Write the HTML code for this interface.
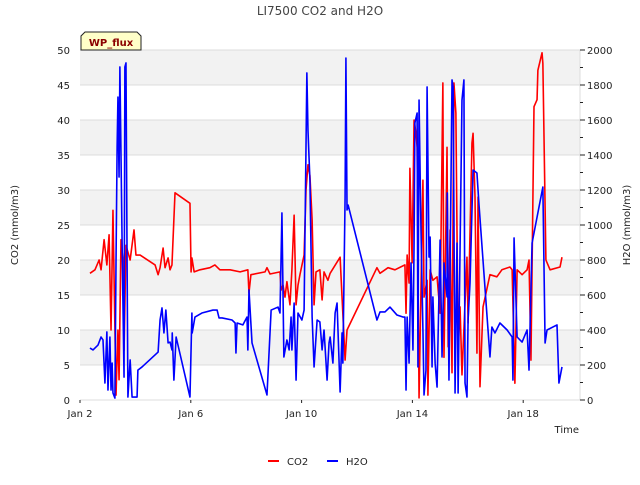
<!DOCTYPE html>
<html><head><meta charset="utf-8"><style>
body{margin:0;background:#fff;}
svg text{font-family:"DejaVu Sans","Liberation Sans",sans-serif;}
</style></head><body>
<svg id="chart" width="640" height="480" viewBox="0 0 640 480">
<rect width="640" height="480" fill="#fff"/>
<g id="bands"></g>
<g id="grid"></g>
<text x="320" y="15" text-anchor="middle" font-size="12" fill="#444">LI7500 CO2 and H2O</text>
<g id="yleft"></g><g id="yright"></g><g id="xaxis"></g>
<g id="series"></g>
<text x="18" y="225" transform="rotate(-90 18 225)" text-anchor="middle" font-size="10" fill="#222">CO2 (mmol/m3)</text>
<text x="630" y="225" transform="rotate(-90 630 225)" text-anchor="middle" font-size="10" fill="#222">H2O (mmol/m3)</text>
<text x="579" y="433" text-anchor="end" font-size="10" fill="#222">Time</text>
<g>
<path d="M81,50 L81,36 L85,32 L137,32 L141,36 L141,50 Z" fill="#ffffc8" stroke="#222" stroke-width="1"/>
<text x="111" y="46" text-anchor="middle" font-size="10" font-weight="bold" fill="#8b0000">WP_flux</text>
</g>
<g>
<g><line x1="268" y1="461" x2="279" y2="461" stroke="#f00" stroke-width="2"/><text x="287" y="465" font-size="10" fill="#222">CO2</text></g>
<g><line x1="327" y1="461" x2="338" y2="461" stroke="#00f" stroke-width="2"/><text x="346" y="465" font-size="10" fill="#222">H2O</text></g>
</g>
</svg>
<script>
const xTickLabels=["Jan 2","Jan 6","Jan 10","Jan 14","Jan 18"];
const xTickDays=[0,4,8,12,16];
const yLeftTicks=[0,5,10,15,20,25,30,35,40,45,50];
const yRightTicks=[0,200,400,600,800,1000,1200,1400,1600,1800,2000];
const co2Days=[0.36,0.54,0.69,0.76,0.87,0.97,1.05,1.12,1.19,1.30,1.37,1.41,1.48,1.55,1.59,1.66,1.81,1.95,2.02,2.17,2.71,2.82,2.89,3.00,3.07,3.18,3.25,3.32,3.43,3.97,4.01,4.04,4.12,4.33,4.69,4.87,5.05,5.42,5.78,6.06,6.10,6.17,6.68,6.75,6.86,7.22,7.26,7.33,7.40,7.47,7.58,7.65,7.73,7.80,7.87,7.94,8.09,8.16,8.23,8.30,8.38,8.45,8.52,8.66,8.74,8.81,8.95,9.03,9.39,9.57,9.64,10.72,10.83,11.12,11.37,11.73,11.77,11.81,11.88,11.91,11.99,12.06,12.13,12.17,12.24,12.38,12.42,12.53,12.56,12.64,12.74,12.89,13.00,13.10,13.14,13.18,13.25,13.29,13.36,13.43,13.50,13.57,13.65,13.72,13.79,13.97,14.01,14.15,14.19,14.26,14.33,14.37,14.44,14.55,14.80,15.05,15.23,15.52,15.60,15.70,15.78,15.96,16.14,16.21,16.28,16.39,16.50,16.53,16.68,16.71,16.82,16.97,17.33,17.40];
const co2Values=[18.1,18.6,20.0,18.6,22.9,19.3,23.6,10.0,27.1,0.7,10.0,2.9,22.9,20.0,7.1,22.1,20.0,24.3,20.7,20.7,19.3,17.9,18.9,21.7,18.9,20.3,18.6,19.3,29.6,28.1,18.3,20.3,18.3,18.6,18.9,19.3,18.6,18.6,18.3,18.6,15.3,17.9,18.3,18.9,18.0,18.3,15.7,16.4,14.7,16.9,13.6,18.6,26.4,13.6,16.4,17.9,20.7,30.0,33.6,32.1,25.7,13.6,18.3,18.6,14.3,18.3,17.1,18.1,20.4,5.7,10.0,18.9,18.1,18.9,18.6,19.3,12.4,20.7,16.7,33.1,19.6,40.0,38.1,36.1,0.3,31.4,14.7,17.1,0.7,18.6,17.1,17.6,12.4,45.3,6.1,16.7,36.1,7.6,24.3,3.9,45.3,41.0,7.1,13.3,3.6,20.4,11.0,36.7,38.1,29.0,6.7,29.0,1.9,13.3,17.9,17.6,18.6,19.0,18.6,2.4,18.6,17.9,18.6,20.0,5.7,41.9,42.9,47.1,49.6,48.1,20.0,18.6,19.0,20.4];
const h2oDays=[0.36,0.47,0.65,0.76,0.83,0.90,0.97,1.01,1.08,1.12,1.16,1.19,1.26,1.30,1.34,1.37,1.41,1.44,1.52,1.55,1.59,1.62,1.66,1.70,1.73,1.81,1.88,2.06,2.09,2.24,2.82,2.89,2.96,3.03,3.10,3.18,3.25,3.32,3.33,3.39,3.47,3.97,4.04,4.05,4.15,4.40,4.80,4.95,5.02,5.13,5.49,5.60,5.63,5.67,5.88,6.03,6.06,6.10,6.21,6.75,6.90,7.15,7.22,7.29,7.36,7.47,7.55,7.62,7.65,7.73,7.80,7.87,8.01,8.09,8.19,8.23,8.30,8.38,8.45,8.56,8.66,8.74,8.81,8.92,8.99,9.03,9.13,9.21,9.28,9.39,9.46,9.49,9.57,9.60,9.64,9.68,10.72,10.83,11.01,11.19,11.44,11.66,11.73,11.77,11.81,11.88,11.95,12.02,12.06,12.09,12.17,12.20,12.24,12.31,12.38,12.42,12.49,12.53,12.60,12.64,12.71,12.74,12.82,12.89,13.00,13.07,13.14,13.25,13.26,13.32,13.43,13.47,13.54,13.61,13.65,13.72,13.79,13.86,13.90,13.97,14.01,14.08,14.19,14.33,14.40,14.80,14.87,14.98,15.16,15.42,15.60,15.63,15.67,15.78,15.96,16.14,16.21,16.32,16.71,16.79,16.86,17.22,17.29,17.40];
const h2oValues=[297,286,314,360,343,97,389,57,360,57,211,40,11,783,1446,1731,1274,1903,897,554,131,1903,1926,783,17,229,17,17,171,189,274,457,526,383,514,326,331,286,383,114,360,17,497,383,474,497,514,514,469,469,457,440,269,440,429,474,286,629,326,29,514,531,497,1069,246,343,286,474,286,554,114,497,457,514,1869,1543,1257,474,189,457,446,286,400,114,326,360,211,497,554,46,383,211,1160,1954,1086,1114,457,503,503,531,486,474,474,57,474,211,783,286,897,1583,1640,189,1714,971,400,29,171,1789,817,931,189,589,211,74,914,246,783,589,1183,114,1829,1789,40,897,40,857,1714,1829,97,17,457,669,1314,1297,1126,246,417,383,440,400,360,114,926,360,331,400,171,897,1217,326,400,429,97,189];

const NS="http://www.w3.org/2000/svg";
const L=80,R=580,T=50,B=400;
const xS=d=>L+d*27.7;
const yL=v=>B-v*(B-T)/50;
const yR=v=>B-v*(B-T)/2000;
function mk(tag,attrs,parent){const e=document.createElementNS(NS,tag);for(const k in attrs)e.setAttribute(k,attrs[k]);parent.appendChild(e);return e;}
const bands=document.getElementById('bands'),grid=document.getElementById('grid');
for(let i=0;i<10;i+=2){const b=mk('rect',{x:L,y:yL(50-i*5),width:R-L,height:(B-T)/10,fill:'#f2f2f2'},bands);

}
const yl=document.getElementById('yleft');
yLeftTicks.forEach(v=>{const g=mk('line',{x1:L,x2:R,y1:yL(v),y2:yL(v),stroke:'#dcdcdc','stroke-width':1},grid);


const t=mk('text',{x:L-10,y:yL(v)+4,'text-anchor':'end','font-size':10,fill:'#222'},yl);t.textContent=v;

});
const yr=document.getElementById('yright');
mk('line',{x1:R,x2:R,y1:T,y2:B,stroke:'#dcdcdc'},yr);
for(let v=0;v<=2000;v+=100){mk('line',{x1:R,x2:R+(v%200===0?5:3),y1:yR(v),y2:yR(v),stroke:'#222'},yr);}
yRightTicks.forEach(v=>{const t=mk('text',{x:R+7,y:yR(v)+4,'font-size':10,fill:'#222'},yr);t.textContent=v;

});
const xa=document.getElementById('xaxis');
mk('line',{x1:L,x2:R,y1:B,y2:B,stroke:'#dcdcdc'},xa);
xTickDays.forEach((d,i)=>{mk('line',{x1:xS(d),x2:xS(d),y1:B,y2:B+3,stroke:'#222'},xa);
const t=mk('text',{x:xS(d),y:B+17,'text-anchor':'middle','font-size':10,fill:'#222'},xa);t.textContent=xTickLabels[i];

});
const s=document.getElementById('series');
const co2=mk('polyline',{points:co2Days.map((d,i)=>xS(d)+','+yL(co2Values[i])).join(' '),fill:'none',stroke:'#f00','stroke-width':1.6,'stroke-linejoin':'round'},s);


const h2o=mk('polyline',{points:h2oDays.map((d,i)=>xS(d)+','+yR(h2oValues[i])).join(' '),fill:'none',stroke:'#00f','stroke-width':1.6,'stroke-linejoin':'round'},s);


</script>
</body></html>
